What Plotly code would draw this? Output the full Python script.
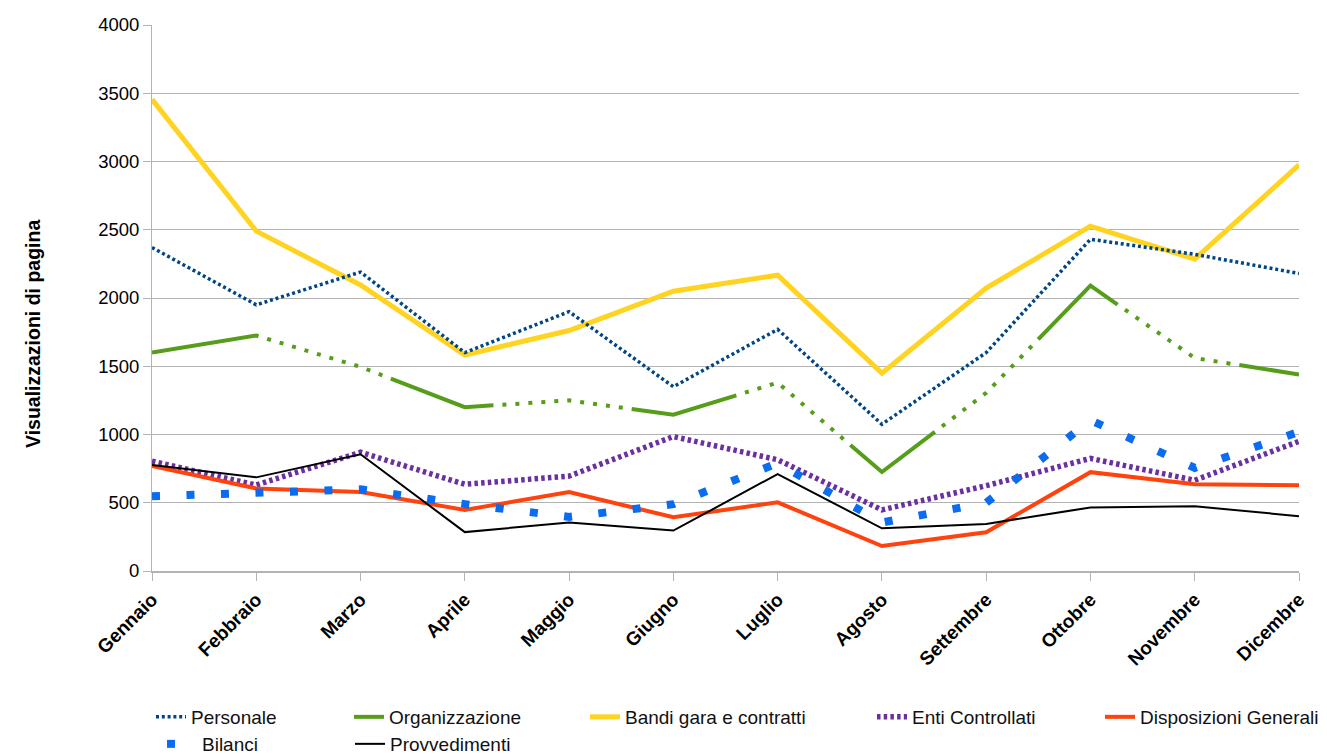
import plotly.graph_objects as go

# Months on the category axis
mesi = ["Gennaio", "Febbraio", "Marzo", "Aprile", "Maggio", "Giugno",
        "Luglio", "Agosto", "Settembre", "Ottobre", "Novembre", "Dicembre"]

# Monthly page views per section
personale = [2370, 1950, 2190, 1600, 1900, 1350, 1770, 1075, 1600, 2430, 2320, 2180]
organizzazione = [1600, 1725, 1495, 1200, 1250, 1145, 1380, 725, 1305, 2090, 1560, 1440]
bandi = [3455, 2490, 2095, 1582, 1762, 2050, 2167, 1450, 2072, 2526, 2285, 2975]
enti = [805, 630, 870, 635, 695, 985, 815, 448, 625, 825, 665, 950]
disposizioni = [770, 605, 578, 448, 578, 394, 503, 183, 284, 724, 635, 628]
bilanci = [548, 570, 598, 490, 396, 490, 790, 355, 500, 1105, 755, 1020]
provvedimenti = [776, 686, 855, 285, 356, 296, 710, 313, 345, 466, 474, 402]

FONT = "Liberation Sans, Arial, sans-serif"

# long dash followed by a run of ten small dots
org_dash = "108px," + "9px,4px," * 10 + "9px"

fig = go.Figure()

def add(name, y, color, width, dash, legend, lw, rank):
    fig.add_trace(go.Scatter(
        x=mesi, y=y, name=name, mode="lines",
        line=dict(color=color, width=width, dash=dash),
        legend=legend, legendwidth=lw, legendrank=rank,
        hoverinfo="x+y+name",
    ))

add("Organizzazione", organizzazione, "#579d1c", 4, org_dash, "legend", 191, 2)
add("Bandi gara e contratti", bandi, "#ffd320", 5, "solid", "legend", 242, 3)
add("Personale", personale, "#004586", 3.5, "3px,2.8px", "legend", 153, 1)
add("Enti Controllati", enti, "#6b2fa0", 5.5, "3.5px,3.2px", "legend", 183, 4)
add("Disposizioni Generali", disposizioni, "#ff420e", 4, "solid", "legend", 182, 5)
add("Bilanci", bilanci, "#0a6cf0", 8, "8px,26.5px", "legend2", 143, 6)
add("Provvedimenti", provvedimenti, "#000000", 2, "solid", "legend2", 150, 7)

legend_common = dict(
    orientation="h", xanchor="left", yanchor="top",
    font=dict(family=FONT, size=19, color="#111111"),
    bgcolor="rgba(0,0,0,0)", borderwidth=0,
)

fig.update_layout(
    width=1327, height=754,
    margin=dict(l=152, r=28, t=25, b=183),
    paper_bgcolor="white", plot_bgcolor="white",
    font=dict(family=FONT, size=19, color="#000000"),
    showlegend=True,
    legend=dict(xref="paper", yref="paper", x=-0.0001, y=(571 - 698) / 546,
                **legend_common),
    legend2=dict(xref="container", yref="container", x=162 / 1327,
                 y=1 - 725 / 754, **legend_common),
    xaxis=dict(
        type="category", range=[0, 11],
        showgrid=False, showline=True, linecolor="#b3b3b3", linewidth=2,
        ticks="outside", ticklen=8, tickcolor="#b3b3b3", tickwidth=1,
        tickangle=-45,
        tickfont=dict(family=FONT, size=19, color="#000000", weight="bold"),
        zeroline=False,
    ),
    yaxis=dict(
        range=[0, 4000], dtick=500, tick0=0,
        showgrid=True, gridcolor="#b3b3b3", gridwidth=1,
        showline=True, linecolor="#b3b3b3", linewidth=1,
        ticks="outside", ticklen=8, tickcolor="#b3b3b3",
        tickfont=dict(family=FONT, size=18.5, color="#000000"),
        zeroline=False,
    ),
    annotations=[dict(
        text="<b>Visualizzazioni di pagina</b>",
        xref="paper", yref="paper",
        x=(20 - 152) / 1147, y=(571 - 334) / 546,
        textangle=-90, showarrow=False,
        font=dict(family=FONT, size=19.5, color="#000000"),
    )],
)

fig.write_html("out.html")
